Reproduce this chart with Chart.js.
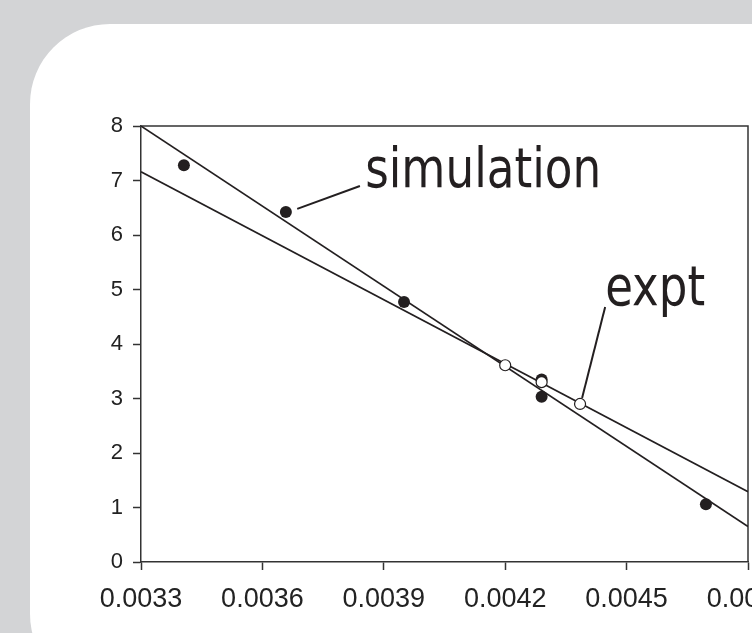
<!DOCTYPE html>
<html>
<head>
<meta charset="utf-8">
<script src="https://cdn.jsdelivr.net/npm/chart.js@4.4.1/dist/chart.umd.min.js"></script>
<style>
  html, body { margin: 0; padding: 0; }
  body { width: 752px; height: 633px; overflow: hidden; background: #d3d4d6; position: relative; }
  .panel { position: absolute; left: 30px; top: 24px; width: 800px; height: 670px; background: #fff; border-radius: 80px; }
  canvas { position: absolute; left: 0; top: 0; }
</style>
</head>
<body>
<div class="panel"></div>
<canvas id="chart" width="752" height="633"></canvas>
<script>
// axis ticks
const xTicks = [0.0033, 0.0036, 0.0039, 0.0042, 0.0045, 0.0048];
const yTicks = [0, 1, 2, 3, 4, 5, 6, 7, 8];

// simulation points (filled)
const simX = [0.003406, 0.003658, 0.00395, 0.00429, 0.00429, 0.004696];
const simY = [7.28, 6.42, 4.77, 3.35, 3.03, 1.06];

// experimental points (open)
const exptX = [0.0042, 0.00429, 0.004385];
const exptY = [3.61, 3.30, 2.90];

// fitted lines, end points
const simFitX = [0.0033, 0.0048];
const simFitY = [8.0, 0.65];
const exptFitX = [0.0033, 0.0048];
const exptFitY = [7.16, 1.29];

// callout labels
const calloutText = ['simulation', 'expt'];

const toPoints = (xs, ys) => xs.map((x, i) => ({x: x, y: ys[i]}));

// label placement in data units, leader line from -> to
const callouts = [
    {text: calloutText[0], x: 0.003854, y: 6.88, width: 236, from: [0.003686, 6.48], to: [0.003841, 6.90]},
    {text: calloutText[1], x: 0.004447, y: 4.72, width: 100, from: [0.00439, 3.01], to: [0.004447, 4.68]}
];

const INK = '#231f20';

const framePlugin = {
    id: 'frame',
    beforeDatasetsDraw(chart) {
        const {ctx, chartArea: a} = chart;
        ctx.save();
        ctx.strokeStyle = '#333';
        ctx.lineWidth = 1.5;
        ctx.beginPath();
        ctx.moveTo(a.left, a.top);
        ctx.lineTo(a.right, a.top);
        ctx.lineTo(a.right, a.bottom);
        ctx.stroke();
        ctx.restore();
    }
};

const calloutPlugin = {
    id: 'callouts',
    afterDatasetsDraw(chart) {
        const {ctx, scales: {x, y}} = chart;
        ctx.save();
        callouts.forEach(c => {
            ctx.strokeStyle = INK;
            ctx.lineWidth = 2;
            ctx.beginPath();
            ctx.moveTo(x.getPixelForValue(c.from[0]), y.getPixelForValue(c.from[1]));
            ctx.lineTo(x.getPixelForValue(c.to[0]), y.getPixelForValue(c.to[1]));
            ctx.stroke();

            ctx.font = '55px "DejaVu Sans"';
            ctx.fillStyle = INK;
            ctx.textBaseline = 'alphabetic';
            const w = ctx.measureText(c.text).width;
            const px = x.getPixelForValue(c.x);
            const py = y.getPixelForValue(c.y);
            ctx.save();
            ctx.translate(px, py);
            ctx.scale(c.width / w, 1);
            ctx.fillText(c.text, 0, 0);
            ctx.restore();
        });
        ctx.restore();
    }
};

new Chart(document.getElementById('chart'), {
    type: 'scatter',
    data: {
        datasets: [
            {
                label: 'simulation fit',
                type: 'line',
                data: toPoints(simFitX, simFitY),
                borderColor: INK,
                borderWidth: 1.6,
                pointRadius: 0,
                fill: false,
                order: 4
            },
            {
                label: 'expt fit',
                type: 'line',
                data: toPoints(exptFitX, exptFitY),
                borderColor: INK,
                borderWidth: 1.6,
                pointRadius: 0,
                fill: false,
                order: 3
            },
            {
                label: 'simulation',
                data: toPoints(simX, simY),
                backgroundColor: INK,
                borderColor: INK,
                borderWidth: 0,
                pointRadius: 6,
                order: 2
            },
            {
                label: 'expt',
                data: toPoints(exptX, exptY),
                backgroundColor: '#fff',
                borderColor: INK,
                borderWidth: 1.2,
                pointRadius: 5.5,
                order: 1
            }
        ]
    },
    options: {
        responsive: false,
        animation: false,
        devicePixelRatio: 1,
        layout: {autoPadding: false, padding: {left: 0, top: 126, right: 4, bottom: 0}},
        plugins: {legend: {display: false}, tooltip: {enabled: false}},
        scales: {
            x: {
                type: 'linear',
                min: 0.0033,
                max: 0.0048,
                afterBuildTicks: s => { s.ticks = xTicks.map(v => ({value: v})); },
                afterFit: s => { s.height = 71; s.paddingLeft = 0; s.paddingRight = 0; },
                grid: {drawOnChartArea: false, drawTicks: true, tickLength: 8, tickColor: '#333', tickWidth: 1.5},
                border: {display: true, color: '#333', width: 1.5},
                ticks: {
                    autoSkip: false,
                    maxRotation: 0,
                    padding: 13,
                    color: '#222',
                    font: {family: '"Liberation Sans", Arial', size: 27},
                    callback: v => v.toFixed(4)
                }
            },
            y: {
                type: 'linear',
                min: 0,
                max: 8,
                afterBuildTicks: s => { s.ticks = yTicks.map(v => ({value: v})); },
                afterFit: s => { s.width = 141; s.paddingTop = 0; s.paddingBottom = 0; },
                grid: {drawOnChartArea: false, drawTicks: true, tickLength: 8, tickColor: '#333', tickWidth: 1.5},
                border: {display: true, color: '#333', width: 1.5},
                ticks: {
                    padding: 10,
                    color: '#222',
                    font: {family: '"Liberation Sans", Arial', size: 22},
                    callback: v => String(v)
                }
            }
        }
    },
    plugins: [framePlugin, calloutPlugin]
});
</script>
</body>
</html>
